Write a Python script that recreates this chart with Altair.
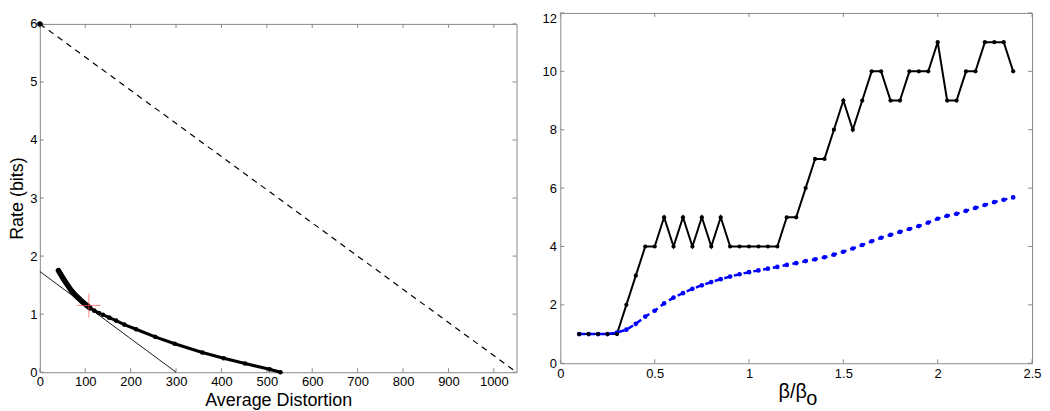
import altair as alt
import pandas as pd

FONT = "Liberation Sans"

# ---------------- Left panel data ----------------
curve_dist = [41, 45, 50, 55, 62, 70, 78, 86, 94, 102, 110, 120, 130, 139, 153, 168, 186, 212, 254, 297, 358, 405, 452, 506, 530]
curve_rate = [1.75, 1.70, 1.63, 1.57, 1.49, 1.40, 1.33, 1.27, 1.21, 1.16, 1.11, 1.06, 1.02, 0.99, 0.94, 0.89, 0.82, 0.74, 0.61, 0.49, 0.34, 0.24, 0.15, 0.05, 0.0]
diag_x = [0, 1050]
diag_y = [6, 0]
tan_x = [0, 300]
tan_y = [1.735, 0]
cross_x = [108]
cross_y = [1.15]
left_xticks = [0, 100, 200, 300, 400, 500, 600, 700, 800, 900, 1000]
left_yticks = [0, 1, 2, 3, 4, 5, 6]

# ---------------- Right panel data ----------------
beta = [0.10, 0.15, 0.20, 0.25, 0.30, 0.35, 0.40, 0.45, 0.50, 0.55, 0.60, 0.65, 0.70, 0.75, 0.80, 0.85,
        0.90, 0.95, 1.00, 1.05, 1.10, 1.15, 1.20, 1.25, 1.30, 1.35, 1.40, 1.45, 1.50, 1.55, 1.60, 1.65,
        1.70, 1.75, 1.80, 1.85, 1.90, 1.95, 2.00, 2.05, 2.10, 2.15, 2.20, 2.25, 2.30, 2.35, 2.40]
black_vals = [1, 1, 1, 1, 1, 2, 3, 4, 4, 5, 4, 5, 4, 5, 4, 5,
              4, 4, 4, 4, 4, 4, 5, 5, 6, 7, 7, 8, 9, 8, 9, 10,
              10, 9, 9, 10, 10, 10, 11, 9, 9, 10, 10, 11, 11, 11, 10]
blue_vals = [1.0, 1.0, 1.0, 1.0, 1.05, 1.15, 1.35, 1.6, 1.8, 2.05, 2.25, 2.4, 2.55, 2.67, 2.78, 2.88,
             2.97, 3.05, 3.12, 3.18, 3.24, 3.30, 3.37, 3.43, 3.50, 3.56, 3.63, 3.72, 3.82, 3.93, 4.05, 4.18,
             4.30, 4.40, 4.50, 4.60, 4.70, 4.82, 4.95, 5.05, 5.12, 5.22, 5.32, 5.42, 5.52, 5.60, 5.68]
right_xticks = [0, 0.5, 1, 1.5, 2, 2.5]
right_yticks = [0, 2, 4, 6, 8, 10, 12]

LW, LH = 479, 350
RW, RH = 474, 352
TICK = "#888888"
TL = 4

curve_df = pd.DataFrame({"d": curve_dist, "r": curve_rate})
diag_df = pd.DataFrame({"d": diag_x, "r": diag_y})
tan_df = pd.DataFrame({"d": tan_x, "r": tan_y})
cross_df = pd.DataFrame({"d": cross_x, "r": cross_y})
right_df = pd.DataFrame({"b": beta, "k": black_vals, "u": blue_vals})

lx = alt.X("d:Q", scale=alt.Scale(domain=[0, 1050], nice=False, zero=False),
           axis=alt.Axis(values=left_xticks, title="Average Distortion", labelFlush=False, format="d",
                         titlePadding=3, labelPadding=3, grid=False))
ly = alt.Y("r:Q", scale=alt.Scale(domain=[0, 6], nice=False),
           axis=alt.Axis(values=left_yticks, title="Rate (bits)", labelFlush=False, format="d",
                         titlePadding=3, labelPadding=3, grid=False))

base_l = alt.Chart(curve_df)

diag = alt.Chart(diag_df).mark_line(color="black", strokeWidth=1.2, strokeDash=[6, 5]).encode(x=lx, y=ly)
diag_pt = alt.Chart(diag_df).transform_filter("datum.d == 0").mark_circle(color="black", size=30, opacity=1).encode(x="d:Q", y="r:Q")
tan = alt.Chart(tan_df).mark_line(color="black", strokeWidth=0.9).encode(x="d:Q", y="r:Q")
curve = base_l.mark_line(color="black", strokeWidth=3).encode(x="d:Q", y="r:Q")
curve_top = base_l.transform_filter("datum.d <= 112").mark_line(color="black", strokeWidth=5.5, strokeCap="round").encode(x="d:Q", y="r:Q")
curve_pts = base_l.mark_circle(color="black", size=22, opacity=1).encode(x="d:Q", y="r:Q")
cross = alt.Chart(cross_df).mark_point(shape="M-1,0L1,0M0,-1L0,1", size=576, stroke="#ff5555",
                                       strokeWidth=1, filled=False).encode(x="d:Q", y="r:Q")

lxt = pd.DataFrame({"d": left_xticks})
lyt = pd.DataFrame({"r": left_yticks})
ltick_b = alt.Chart(lxt).mark_rule(color=TICK).encode(x="d:Q", y=alt.value(LH), y2=alt.value(LH - TL))
ltick_t = alt.Chart(lxt).mark_rule(color=TICK).encode(x="d:Q", y=alt.value(0), y2=alt.value(TL))
ltick_l = alt.Chart(lyt).mark_rule(color=TICK).encode(y="r:Q", x=alt.value(0), x2=alt.value(TL))
ltick_r = alt.Chart(lyt).mark_rule(color=TICK).encode(y="r:Q", x=alt.value(LW), x2=alt.value(LW - TL))

left = alt.layer(diag, ltick_b, ltick_t, ltick_l, ltick_r, tan, curve, curve_top, curve_pts, diag_pt, cross).properties(width=LW, height=LH)

spacer = alt.Chart(pd.DataFrame({"a": [0]})).mark_point(opacity=0).encode(
    x=alt.value(0), y=alt.value(0)
).properties(width=LW, height=1, view={"stroke": "transparent"})

left_col = alt.vconcat(spacer, left, spacing=0)

rx = alt.X("b:Q", scale=alt.Scale(domain=[0, 2.5], nice=False, zero=False),
           axis=alt.Axis(values=right_xticks, title="β/β", labelFlush=False, titlePadding=1, format="~g",
                         labelPadding=4, titleFontSize=20, titleX=RW / 2 - 4, grid=False))
ry = alt.Y("k:Q", scale=alt.Scale(domain=[0, 12], nice=False),
           axis=alt.Axis(values=right_yticks, title=None, labelFlush=False, labelPadding=4, format="d", grid=False,
                         labelBaseline={"condition": {"test": "datum.value == 12", "value": "top"}, "value": "middle"}))

black_line = alt.Chart(right_df).mark_line(color="black", strokeWidth=2).encode(x=rx, y=ry)
blue_line = alt.Chart(right_df).mark_line(color="#0000ff", strokeWidth=2.5, strokeDash=[6, 4]).encode(x="b:Q", y="u:Q")
blue_pts = alt.Chart(right_df).mark_circle(color="#0000ff", size=22, opacity=1).encode(x="b:Q", y="u:Q")
black_pts = alt.Chart(right_df).mark_circle(color="black", size=18, opacity=1).encode(x="b:Q", y="k:Q")
sub_o = alt.Chart(pd.DataFrame({"t": ["o"]})).mark_text(
    font=FONT, fontSize=20, align="left", baseline="alphabetic", color="black"
).encode(text="t:N", x=alt.value(RW / 2 + 10), y=alt.value(RH + 42))

rxt = pd.DataFrame({"b": right_xticks})
ryt = pd.DataFrame({"k": right_yticks})
rtick_b = alt.Chart(rxt).mark_rule(color=TICK).encode(x="b:Q", y=alt.value(RH), y2=alt.value(RH - TL))
rtick_t = alt.Chart(rxt).mark_rule(color=TICK).encode(x="b:Q", y=alt.value(0), y2=alt.value(TL))
rtick_l = alt.Chart(ryt).mark_rule(color=TICK).encode(y="k:Q", x=alt.value(0), x2=alt.value(TL))
rtick_r = alt.Chart(ryt).mark_rule(color=TICK).encode(y="k:Q", x=alt.value(RW), x2=alt.value(RW - TL))

right = alt.layer(black_line, rtick_b, rtick_t, rtick_l, rtick_r, blue_line, blue_pts, black_pts, sub_o).properties(width=RW, height=RH)

chart = alt.hconcat(left_col, right, spacing=22).properties(
    padding={"left": 0, "top": 0, "right": 0, "bottom": 0},
    background="white",
).configure_view(stroke="#888888", strokeWidth=1).configure_axis(
    grid=False, domain=False, ticks=False, labelFont=FONT, titleFont=FONT,
    labelFontSize=13, titleFontSize=18, titleFontWeight="normal", labelColor="black", titleColor="black"
)

chart.save("out.html", embed_options={"renderer": "svg", "actions": False})
